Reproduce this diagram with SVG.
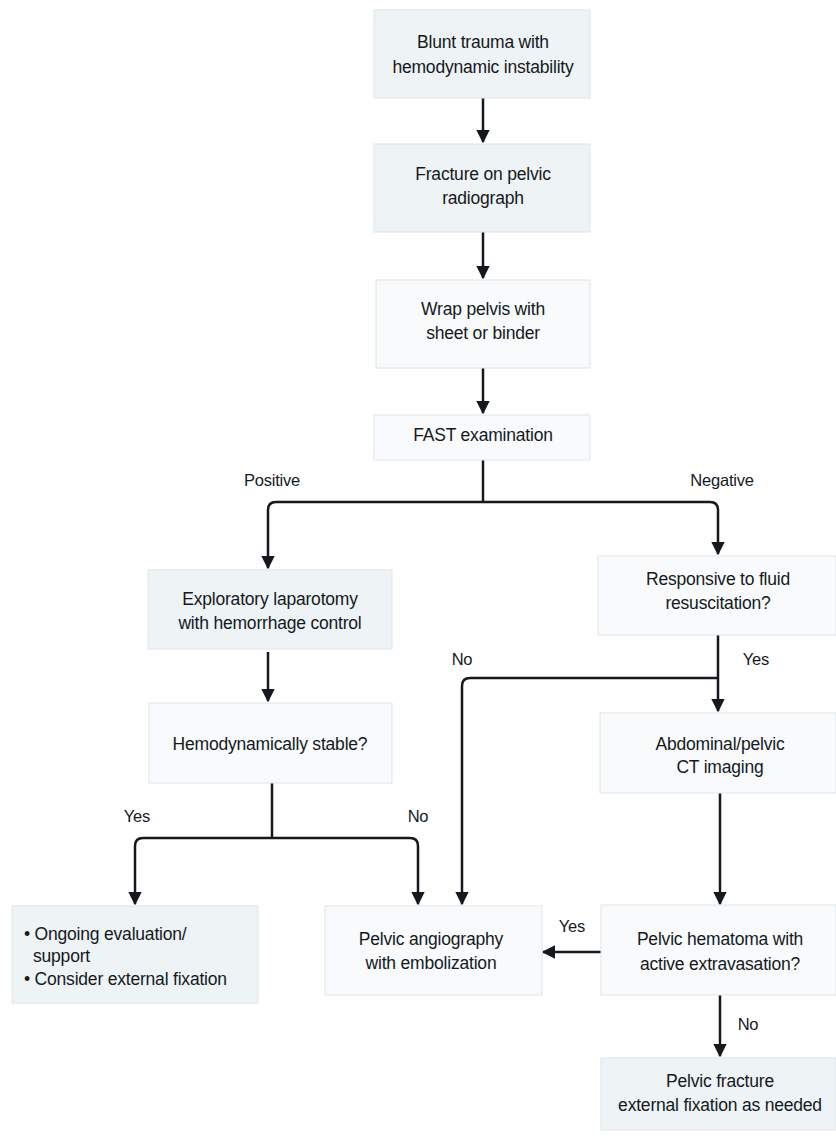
<svg xmlns="http://www.w3.org/2000/svg" width="836" height="1138" viewBox="0 0 836 1138">
<defs>
<style>
.box{fill:#eef3f5;stroke:#dfe6ea;stroke-width:1}
.boxw{fill:#f8fafb;stroke:#dfe6ea;stroke-width:1}
text{font-family:"Liberation Sans",Arial,sans-serif;font-size:17.5px;fill:#15191d;text-anchor:middle;letter-spacing:-0.2px}
.lbl{font-size:16.5px}
.left{text-anchor:start}
.conn{fill:none;stroke:#15191d;stroke-width:2.5}
</style>
<marker id="ah" viewBox="0 0 10 10" refX="9" refY="5" markerWidth="5.5" markerHeight="5.5" markerUnits="strokeWidth" orient="auto">
<path d="M0,0 L10,5 L0,10 z" fill="#15191d"/>
</marker>
</defs>
<rect width="836" height="1138" fill="#ffffff"/>
<g id="connectors">
<path class="conn" d="M483,98 V142" marker-end="url(#ah)"/>
<path class="conn" d="M483,232 V278" marker-end="url(#ah)"/>
<path class="conn" d="M483,368 V413" marker-end="url(#ah)"/>
<path class="conn" d="M483,460 V502"/>
<path class="conn" d="M483,502 H276 Q268,502 268,510 V568" marker-end="url(#ah)"/>
<path class="conn" d="M483,502 H710 Q718,502 718,510 V554" marker-end="url(#ah)"/>
<path class="conn" d="M268,652 V701" marker-end="url(#ah)"/>
<path class="conn" d="M272,783 V838"/>
<path class="conn" d="M272,838 H143 Q135,838 135,846 V904" marker-end="url(#ah)"/>
<path class="conn" d="M272,838 H410 Q418,838 418,846 V904" marker-end="url(#ah)"/>
<path class="conn" d="M718,635 V711" marker-end="url(#ah)"/>
<path class="conn" d="M718,678 H470 Q462,678 462,686 V904" marker-end="url(#ah)"/>
<path class="conn" d="M720,793 V904" marker-end="url(#ah)"/>
<path class="conn" d="M601,952 H543" marker-end="url(#ah)"/>
<path class="conn" d="M720,995 V1056" marker-end="url(#ah)"/>
<text class="lbl" x="272" y="486">Positive</text>
<text class="lbl" x="722" y="486">Negative</text>
<text class="lbl" x="462" y="665">No</text>
<text class="lbl" x="756" y="665">Yes</text>
<text class="lbl" x="137" y="822">Yes</text>
<text class="lbl" x="418" y="822">No</text>
<text class="lbl" x="572" y="932">Yes</text>
<text class="lbl" x="748" y="1030">No</text>
</g>
<g id="n1"><rect class="box" x="374" y="10" width="216" height="88"/>
<text x="483" y="48">Blunt trauma with</text><text x="483" y="73">hemodynamic instability</text></g>
<g id="n2"><rect class="box" x="374" y="144" width="216" height="88"/>
<text x="483" y="180">Fracture on pelvic</text><text x="483" y="204">radiograph</text></g>
<g id="n3"><rect class="boxw" x="376" y="280" width="214" height="88"/>
<text x="483" y="315">Wrap pelvis with</text><text x="483" y="339">sheet or binder</text></g>
<g id="n4"><rect class="boxw" x="374" y="415" width="216" height="45"/>
<text x="483" y="441">FAST examination</text></g>
<g id="n5"><rect class="box" x="148" y="570" width="244" height="79"/>
<text x="270" y="605">Exploratory laparotomy</text><text x="270" y="629">with hemorrhage control</text></g>
<g id="n6"><rect class="boxw" x="149" y="703" width="243" height="80"/>
<text x="270" y="750">Hemodynamically stable?</text></g>
<g id="n7"><rect class="boxw" x="598" y="556" width="238" height="79"/>
<text x="718" y="585">Responsive to fluid</text><text x="718" y="609">resuscitation?</text></g>
<g id="n8"><rect class="boxw" x="600" y="713" width="236" height="80"/>
<text x="720" y="750">Abdominal/pelvic</text><text x="720" y="773">CT imaging</text></g>
<g id="n9"><rect class="box" x="12" y="906" width="246" height="97"/>
<text class="left" x="24" y="940">• Ongoing evaluation/</text><text class="left" x="33" y="962">support</text><text class="left" x="24" y="985">• Consider external fixation</text></g>
<g id="n10"><rect class="boxw" x="325" y="906" width="217" height="89"/>
<text x="431" y="945">Pelvic angiography</text><text x="431" y="969">with embolization</text></g>
<g id="n11"><rect class="boxw" x="601" y="905" width="235" height="90"/>
<text x="720" y="945">Pelvic hematoma with</text><text x="720" y="970">active extravasation?</text></g>
<g id="n12"><rect class="box" x="601" y="1058" width="235" height="72"/>
<text x="720" y="1087">Pelvic fracture</text><text x="720" y="1111">external fixation as needed</text></g>
</svg>
